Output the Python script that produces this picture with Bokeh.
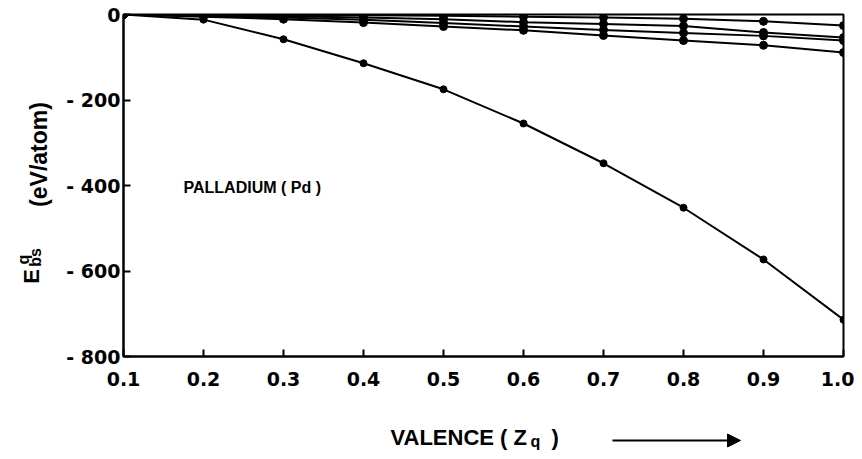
import math
from bokeh.plotting import figure
from bokeh.models import Label, Arrow, NormalHead, FixedTicker, Range1d
from bokeh.layouts import row, column
from bokeh.core.properties import value
from bokeh.embed import file_html
from bokeh.resources import INLINE

# ---- data ----
valence = [0.1, 0.2, 0.3, 0.4, 0.5, 0.6, 0.7, 0.8, 0.9, 1.0]
e_main = [0, -12, -58, -114, -175, -255, -348, -452, -573, -714]
e_s1 = [0, -1, -1, -2, -3, -5, -7, -10, -16, -26]
e_s2 = [0, -2, -4, -7, -11, -18, -22, -27, -42, -54]
e_s3 = [0, -3, -7, -12, -20, -28, -36, -43, -50, -61]
e_s4 = [0, -5, -11, -19, -28, -37, -49, -61, -72, -89]

x_ticks = [0.1, 0.2, 0.3, 0.4, 0.5, 0.6, 0.7, 0.8, 0.9, 1.0]
x_tick_labels = ["0.1", "0.2", "0.3", "0.4", "0.5", "0.6", "0.7", "0.8", "0.9", "1.0"]
y_ticks = [0, -200, -400, -600, -800]
y_tick_labels = ["0", "- 200", "- 400", "- 600", "- 800"]

TICK_FONT = "DejaVu Sans"
TEXT_FONT = "Liberation Sans"

LEFT_W = 55
MAIN_W = 799
TOP_H = 400
BOT_H = 51
B_TOP, B_BOTTOM = 14, 44

# ---- main chart ----
p = figure(width=MAIN_W, height=TOP_H, output_backend="svg", toolbar_location=None,
           x_range=Range1d(0.1, 1.0), y_range=Range1d(-800, 0),
           min_border_left=68, min_border_right=11, min_border_top=B_TOP,
           min_border_bottom=B_BOTTOM)
p.grid.visible = False
p.outline_line_color = "black"
p.outline_line_width = 2

for ax in (p.xaxis[0], p.yaxis[0]):
    ax.axis_line_width = 2
    ax.axis_line_color = "black"
    ax.major_tick_in = 7
    ax.major_tick_out = 0
    ax.major_tick_line_width = 2
    ax.minor_tick_line_color = None
    ax.major_label_text_font = TICK_FONT
    ax.major_label_text_font_style = "bold"
    ax.major_label_text_font_size = "19px"
    ax.major_label_text_color = "black"

p.xaxis.ticker = FixedTicker(ticks=x_ticks)
p.xaxis.major_label_overrides = dict(zip(x_ticks, x_tick_labels))
p.xaxis.major_label_standoff = 15
p.yaxis.ticker = FixedTicker(ticks=y_ticks)
p.yaxis.major_label_overrides = {int(k): v for k, v in zip(y_ticks, y_tick_labels)}
p.yaxis.major_label_standoff = 3

for ys in (e_s1, e_s2, e_s3, e_s4):
    p.line(valence, ys, line_color="black", line_width=2)
    p.scatter(valence, ys, size=8, color="black")
p.line(valence, e_main, line_color="black", line_width=2)
p.scatter(valence, e_main, size=7, color="black")

p.add_layout(Label(x=0.175, y=-424, text="PALLADIUM ( Pd )", text_font=TEXT_FONT,
                   text_font_style="bold", text_font_size="16px", text_color="black"))

# ---- left strip: y-axis title (data units = page pixels) ----
left = figure(width=LEFT_W, height=TOP_H, output_backend="svg", toolbar_location=None,
              x_range=Range1d(0, LEFT_W), y_range=Range1d(TOP_H - B_BOTTOM, B_TOP),
              x_axis_location=None, y_axis_location=None, min_border=0,
              min_border_top=B_TOP, min_border_bottom=B_BOTTOM)
left.grid.visible = False
left.outline_line_color = None
left.text(x=[38], y=[154], text=["(eV/atom)"], angle=math.pi / 2,
          text_font=value(TEXT_FONT), text_font_style="bold", text_font_size="23px",
          text_align="center", text_baseline="middle", text_color="black")
left.text(x=[31], y=[276], text=["E"], angle=math.pi / 2,
          text_font=value(TEXT_FONT), text_font_style="bold", text_font_size="22px",
          text_align="center", text_baseline="middle", text_color="black")
left.text(x=[35], y=[257], text=["bs"], angle=math.pi / 2,
          text_font=value(TEXT_FONT), text_font_style="bold", text_font_size="16px",
          text_align="center", text_baseline="middle", text_color="black")
left.text(x=[23], y=[259], text=["q"], angle=math.pi / 2,
          text_font=value(TEXT_FONT), text_font_style="bold", text_font_size="16px",
          text_align="center", text_baseline="middle", text_color="black")

# ---- bottom strip: x-axis title and arrow ----
bottom = figure(width=LEFT_W + MAIN_W, height=BOT_H, output_backend="svg", toolbar_location=None,
                x_range=Range1d(0, LEFT_W + MAIN_W), y_range=Range1d(BOT_H, 0),
                x_axis_location=None, y_axis_location=None, min_border=0)
bottom.grid.visible = False
bottom.outline_line_color = None
bottom.text(x=[390], y=[37], text=["VALENCE ( Z"], text_font=value(TEXT_FONT),
            text_font_style="bold", text_font_size="22px", text_baseline="middle",
            text_color="black")
bottom.text(x=[530], y=[41], text=["q"], text_font=value(TEXT_FONT),
            text_font_style="bold", text_font_size="16px", text_baseline="middle",
            text_color="black")
bottom.text(x=[551], y=[37], text=[")"], text_font=value(TEXT_FONT),
            text_font_style="bold", text_font_size="22px", text_baseline="middle",
            text_color="black")
bottom.add_layout(Arrow(x_start=612, y_start=40, x_end=740, y_end=40, line_width=2,
                        line_color="black",
                        end=NormalHead(size=13, fill_color="black", line_color="black")))

layout = column(row(left, p), bottom)
open("out.html", "w").write(file_html(layout, INLINE))
